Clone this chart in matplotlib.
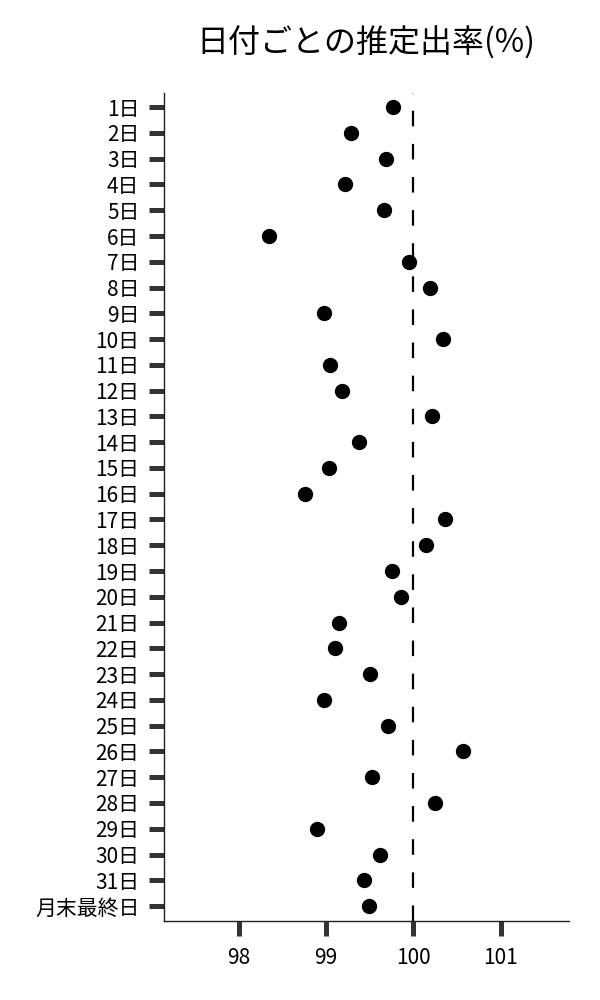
import matplotlib
matplotlib.use("Agg")
import matplotlib.pyplot as plt

plt.rcParams['font.family'] = ['Noto Sans CJK JP', 'DejaVu Sans']

# ラベルと推定出率
days = [f"{d}日" for d in range(1, 32)] + ["月末最終日"]
rates = [99.77, 99.28, 99.69, 99.22, 99.66, 98.35, 99.95, 100.19, 98.98, 100.34,
         99.04, 99.18, 100.21, 99.38, 99.03, 98.76, 100.36, 100.14, 99.76, 99.86,
         99.15, 99.10, 99.50, 98.98, 99.71, 100.57, 99.53, 100.25, 98.90, 99.62,
         99.43, 99.49]
xticks = [98, 99, 100, 101]
ref_value = 100

fig = plt.figure(figsize=(6, 10), dpi=100)
ax = fig.add_axes([0.273, 0.079, 0.675, 0.828])

ypos = list(range(len(days)))
ax.plot(rates, ypos, 'o', color='black', markersize=10, linestyle='none', zorder=3)
ax.axvline(ref_value, color='black', linewidth=1.6, dashes=(7, 7.9), zorder=2)

ax.set_yticks(ypos)
ax.set_yticklabels(days, fontsize=15)
ax.set_ylim(len(days) - 1 + 0.58, -0.55)
ax.set_xticks(xticks)
ax.set_xticklabels([str(t) for t in xticks], fontsize=15)
ax.set_xlim(97.14, 101.78)

for s in ['top', 'right']:
    ax.spines[s].set_visible(False)
for s in ['left', 'bottom']:
    ax.spines[s].set_linewidth(1.0)
    ax.spines[s].set_color('#222222')

ax.tick_params(axis='y', length=10.5, width=3.6, color='#333333', pad=7)
ax.tick_params(axis='x', length=10.5, width=3.6, color='#333333', pad=8)

fig.text(0.61, 0.957, "日付ごとの推定出率(%)", ha='center', va='center', fontsize=23)

fig.savefig("out.png", dpi=100)
